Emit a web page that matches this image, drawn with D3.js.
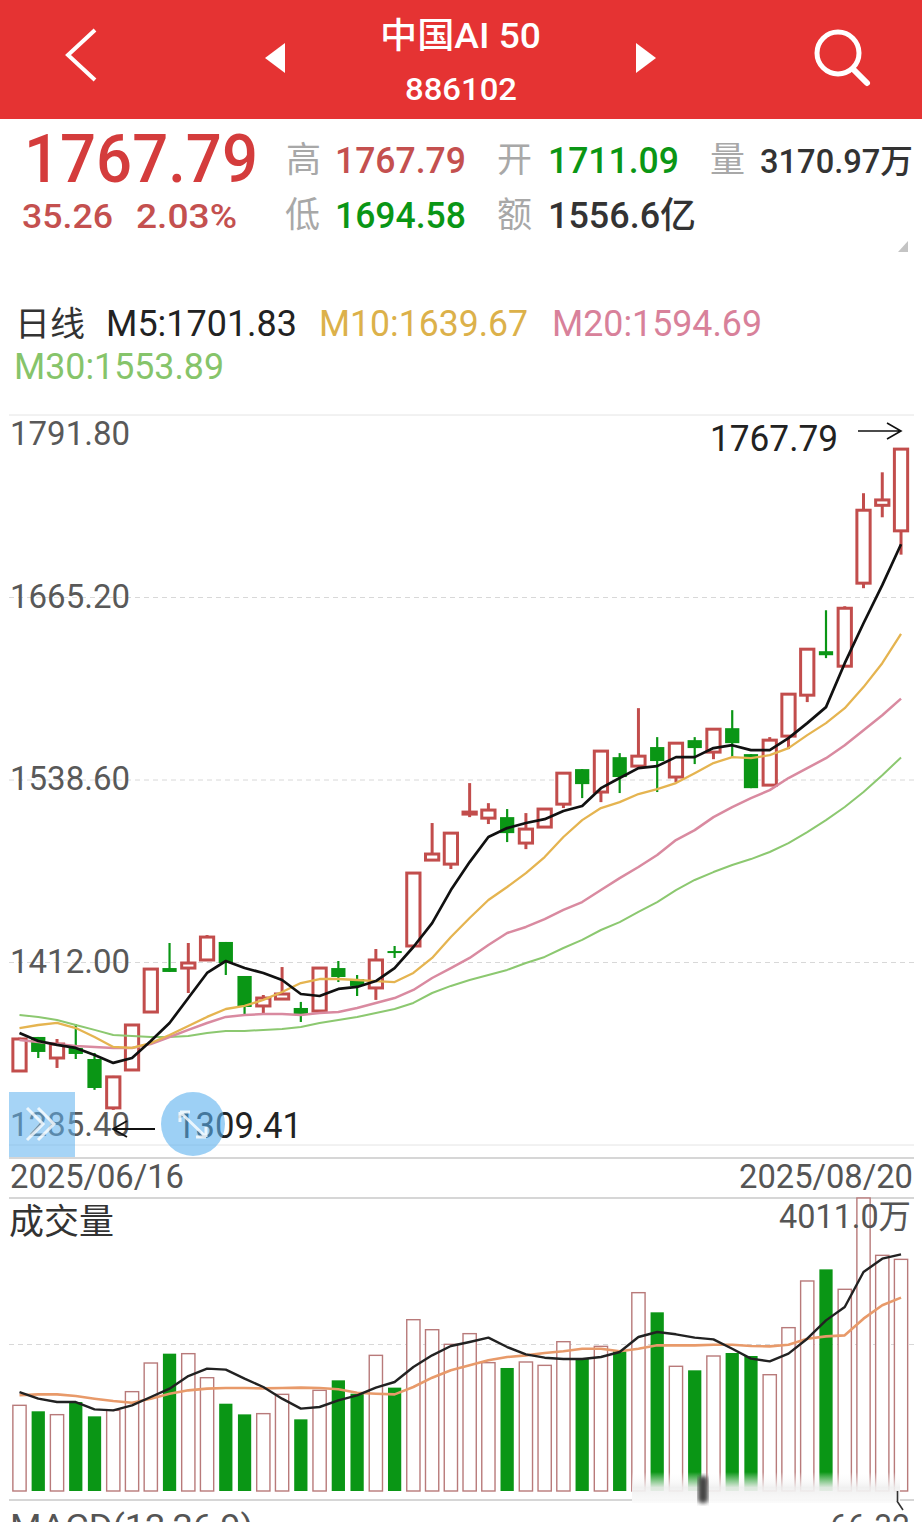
<!DOCTYPE html>
<meta charset="utf-8">
<style>
html, body { margin: 0; padding: 0; background: #fff; }
svg { display: block; }
text { font-family: Roboto, "Noto Sans CJK SC", sans-serif; }
.grid line { stroke: #d8d8d8; stroke-dasharray: 5 4; }
.grid path { display: none; }
.grid text { font-size: 33px; fill: #595959; }
.ma { fill: none; stroke-linejoin: round; }
</style>
<svg width="922" height="1522"></svg>
<script src="https://d3js.org/d3.v7.min.js"></script>
<script>
var priceTicks = [1791.80, 1665.20, 1538.60, 1412.00, 1285.40];

// daily bars, 2025/06/16 to 2025/08/20
var open = [1336.4,1360.0,1345.4,1352.4,1344.7,1310.8,1337.1,1377.3,1407.8,1407.8,1413.4,1425.9,1402.3,1381.5,1386.3,1380.1,1378.0,1407.8,1400.2,1394.0,1419.6,1423.1,1482.7,1479.9,1514.6,1511.8,1512.5,1494.5,1505.6,1521.5,1545.8,1529.9,1554.1,1547.9,1561.1,1540.3,1565.9,1557.6,1574.2,1556.2,1534.7,1568.7,1597.1,1627.6,1617.2,1674.8,1728.8,1711.09];
var high = [1359.5,1360.0,1358.6,1369.0,1348.9,1333.0,1368.3,1407.1,1425.2,1425.2,1430.7,1425.9,1402.3,1389.1,1408.5,1384.3,1408.5,1412.7,1403.0,1421.0,1423.1,1473.7,1508.4,1501.8,1536.1,1522.2,1518.1,1515.3,1518.1,1543.6,1545.8,1558.3,1556.9,1588.1,1568.0,1563.8,1568.0,1573.5,1586.7,1556.2,1568.0,1597.8,1629.0,1656.0,1658.8,1737.2,1751.7,1767.79];
var low = [1336.4,1345.4,1338.5,1344.7,1323.3,1309.41,1337.1,1377.3,1405.1,1390.5,1413.4,1403.0,1375.9,1375.9,1385.7,1370.4,1377.5,1398.1,1388.4,1385.7,1414.8,1423.1,1482.7,1476.5,1512.5,1507.7,1495.2,1490.3,1505.6,1518.8,1525.7,1522.9,1529.2,1546.5,1529.9,1536.8,1549.3,1552.7,1554.1,1532.6,1534.7,1559.7,1592.3,1622.8,1617.2,1671.3,1720.5,1694.58];
var close = [1358.6,1349.6,1355.1,1348.2,1324.6,1332.3,1368.3,1407.1,1405.1,1411.3,1429.3,1411.3,1380.8,1387.0,1389.8,1375.9,1407.8,1401.6,1395.4,1413.4,1418.2,1473.7,1486.9,1501.4,1516.0,1517.4,1501.4,1504.2,1518.1,1543.0,1535.4,1558.3,1540.3,1554.8,1551.4,1563.8,1560.4,1573.5,1563.8,1532.6,1565.9,1597.8,1629.0,1624.8,1657.4,1725.4,1732.53,1767.79];

var m5 = [1362.8,1357.2,1354.5,1352.4,1347.5,1342.0,1345.4,1357.2,1369.7,1387.0,1404.4,1412.7,1407.8,1404.4,1399.5,1389.8,1388.4,1393.3,1394.7,1398.8,1407.8,1422.4,1439.0,1461.9,1481.3,1498.7,1504.9,1508.4,1511.1,1516.7,1520.2,1532.6,1539.6,1546.5,1547.9,1554.1,1554.1,1560.4,1562.4,1559.0,1559.0,1567.3,1577.7,1588.8,1619.3,1647.0,1673.4,1701.83];
var m10 = [1366.2,1368.3,1369.7,1366.2,1360.0,1353.1,1352.4,1355.8,1361.4,1367.6,1373.9,1379.4,1381.5,1385.7,1391.2,1397.4,1400.2,1400.2,1399.5,1398.8,1398.1,1404.4,1414.8,1429.3,1442.5,1455.0,1464.0,1473.7,1484.8,1498.7,1510.4,1518.8,1522.9,1528.5,1531.9,1536.1,1543.0,1550.0,1554.1,1553.4,1555.5,1560.4,1569.4,1577.7,1588.1,1602.7,1619.3,1639.67];
var m20 = [1357.9,1356.5,1355.1,1353.8,1353.1,1352.4,1352.4,1355.1,1360.0,1364.9,1369.7,1373.9,1375.3,1375.9,1375.9,1375.3,1376.6,1377.3,1380.1,1383.6,1387.0,1392.6,1400.9,1407.8,1414.8,1423.8,1432.1,1436.3,1441.8,1448.1,1453.6,1461.9,1470.2,1477.9,1486.2,1496.6,1503.5,1512.5,1519.5,1525.7,1531.2,1539.6,1546.5,1553.4,1562.4,1572.8,1583.2,1594.69];
var m30 = [1375.3,1373.9,1371.8,1368.3,1364.9,1361.4,1360.7,1360.0,1360.0,1360.7,1362.8,1364.2,1364.2,1364.9,1365.5,1366.9,1369.7,1371.8,1373.9,1376.6,1379.4,1383.6,1390.5,1395.4,1399.5,1403.0,1406.5,1411.3,1415.5,1421.7,1427.3,1434.2,1439.7,1446.7,1453.6,1461.9,1468.9,1474.4,1479.3,1483.4,1488.3,1494.5,1502.1,1510.4,1519.5,1529.9,1541.6,1553.89];

// volume in 万
var volume = [1173,1091,1045,1218,1022,1104,1360,1752,1880,1880,1551,1195,1049,1059,1323,981,1378,1515,1332,1857,1415,2345,2208,2008,2154,1757,1684,1766,1720,2044,1811,1980,1912,2715,2446,1707,1652,1848,1889,1848,1592,2236,2875,3034,2761,4011,3226,3170.97];
var volFast = [1355,1264,1218,1218,1118,1104,1173,1287,1401,1574,1675,1661,1538,1424,1264,1127,1150,1241,1310,1415,1492,1697,1857,1985,2040,2099,1971,1871,1825,1807,1807,1834,1903,2108,2177,2145,2099,2076,1948,1812,1775,1880,2085,2336,2519,2998,3180,3240];
var volSlow = [1310,1323,1323,1300,1264,1232,1209,1264,1332,1378,1401,1410,1410,1405,1410,1415,1410,1392,1346,1332,1323,1424,1551,1652,1720,1789,1834,1857,1889,1912,1948,1948,1912,1948,1994,1994,1994,2003,2003,1985,1980,2003,2085,2117,2131,2359,2542,2647];

var RED = "#c24d4c", GREEN = "#0a9615", HEAD = "#e53333";
var svg = d3.select("svg");
var days = d3.range(close.length);

var x = d3.scaleBand().domain(days).range([10.12, 910.4]).paddingInner(0.24).paddingOuter(0.12);
var cx = function(i) { return x(i) + x.bandwidth() / 2; };
var y = d3.scaleLinear().domain([1285.4, 1791.8]).range([1144.5, 414.5]);
var yVol = d3.scaleLinear().domain([0, 4011]).range([1491, 1198]);
var isUp = function(i) { return close[i] >= open[i]; };

function label(s, px, py, size, fill, width, anchor) {
  var t = svg.append("text").attr("x", px).attr("y", py)
      .style("font-size", size + "px").attr("fill", fill).text(s);
  if (width) t.attr("textLength", width).attr("lengthAdjust", "spacingAndGlyphs");
  if (anchor) t.attr("text-anchor", anchor);
  return t;
}

// header
svg.append("rect").attr("width", 922).attr("height", 119).attr("fill", HEAD);
svg.append("path").attr("d", "M95,30L68,55L95,80").attr("fill", "none").attr("stroke", "#fff").attr("stroke-width", 4);
svg.append("path").attr("d", "M285,43L265,58L285,73Z").attr("fill", "#fff");
svg.append("path").attr("d", "M636,43L656,58L636,73Z").attr("fill", "#fff");
svg.append("circle").attr("cx", 838).attr("cy", 53).attr("r", 21).attr("fill", "none").attr("stroke", "#fff").attr("stroke-width", 5);
svg.append("path").attr("d", "M853,69L867,83").attr("stroke", "#fff").attr("stroke-width", 6).attr("stroke-linecap", "round");
label("中国AI 50", 380, 48, 35, "#fff", 161).style("font-weight", 500);
label("886102", 405, 100, 32, "#fff", 112).style("font-weight", 500);

// quote block
label("1767.79", 24, 182, 66, "#d43c3c", 234).style("font-weight", 500);
label("35.26", 22, 228, 34, "#c4504f", 91).style("font-weight", 500);
label("2.03%", 136, 228, 34, "#c4504f", 101).style("font-weight", 500);
label("高", 286, 172, 35, "#a8a8a8");
label("1767.79", 335, 173, 37, "#c4504f", 131).style("font-weight", 500);
label("开", 497, 172, 35, "#a8a8a8");
label("1711.09", 548, 173, 37, GREEN, 131).style("font-weight", 500);
label("量", 710, 172, 35, "#a8a8a8");
label("3170.97万", 760, 173, 33, "#333", 153).style("font-weight", 500);
label("低", 285, 227, 35, "#a8a8a8");
label("1694.58", 335, 228, 37, GREEN, 131).style("font-weight", 500);
label("额", 497, 227, 35, "#a8a8a8");
label("1556.6亿", 548, 228, 36, "#333", 148).style("font-weight", 500);
svg.append("path").attr("d", "M908,241V252H898Z").attr("fill", "#c4c4c4");

// legend
label("日线", 15, 336, 34, "#333", 70);
label("M5:1701.83", 106, 336, 36, "#222", 191);
label("M10:1639.67", 319, 336, 36, "#dcb14a", 209);
label("M20:1594.69", 552, 336, 36, "#d8819a", 210);
label("M30:1553.89", 14, 379, 36, "#86c46a", 210);

// price axis
var axis = svg.append("g").attr("class", "grid").attr("transform", "translate(914,0)")
    .call(d3.axisLeft(y).tickValues(priceTicks).tickFormat(d3.format(".2f")).tickSize(905));
axis.selectAll("text").attr("x", -904).attr("text-anchor", "start");
var tickDy = {"1791.80": 30, "1285.40": -9};
axis.selectAll(".tick text").attr("dy", function(d) { return tickDy[d.toFixed(2)] === undefined ? 10 : tickDy[d.toFixed(2)]; });
axis.selectAll(".tick line").filter(function(d) { return d == 1791.8 || d == 1285.4; })
    .style("stroke-dasharray", "none").style("stroke", "#e4e4e4");

// candles
var candle = svg.append("g").selectAll("g").data(days).join("g");
candle.append("line")
    .attr("x1", cx).attr("x2", cx)
    .attr("y1", function(i) { return y(high[i]); })
    .attr("y2", function(i) { return y(low[i]); })
    .attr("stroke", function(i) { return isUp(i) ? RED : GREEN; })
    .attr("stroke-width", function(i) { return isUp(i) ? 3 : 2.2; });
candle.append("rect")
    .attr("x", function(i) { return x(i) + (isUp(i) ? 0.5 : 0); })
    .attr("width", function(i) { return x.bandwidth() - (isUp(i) ? 1 : 0); })
    .attr("y", function(i) { return y(Math.max(open[i], close[i])); })
    .attr("height", function(i) { return Math.max(2, Math.abs(y(open[i]) - y(close[i]))); })
    .attr("fill", function(i) { return isUp(i) ? "#fff" : GREEN; })
    .attr("stroke", function(i) { return isUp(i) ? RED : "none"; })
    .attr("stroke-width", 3);

var line = d3.line().x(function(d, i) { return cx(i); }).y(function(d) { return y(d); });
[[m30, "#8cc870", 2], [m20, "#d98aa0", 2.5], [m10, "#e5b450", 2.3], [m5, "#111", 2.7]].forEach(function(s) {
  svg.append("path").attr("class", "ma").attr("d", line(s[0])).attr("stroke", s[1]).attr("stroke-width", s[2]);
});

// high / low markers
label("1767.79", 710, 451, 36, "#222", 128);
svg.append("path").attr("d", "M858,431H901M887,423L901,431L887,439").attr("fill", "none").attr("stroke", "#111").attr("stroke-width", 1.6);
label("1309.41", 176, 1138, 36, "#222", 126);
svg.append("path").attr("d", "M155,1129H113M127,1121L113,1129L127,1137").attr("fill", "none").attr("stroke", "#111").attr("stroke-width", 1.8);

// app overlay buttons
svg.append("rect").attr("x", 9).attr("y", 1092).attr("width", 66).attr("height", 65).attr("fill", "#5cb0ee").attr("opacity", 0.55);
svg.append("path").attr("d", "M27,1108L43,1124L27,1140M38,1108L54,1124L38,1140").attr("fill", "none").attr("stroke", "#fff").attr("stroke-width", 3).attr("opacity", 0.8);
svg.append("circle").attr("cx", 193).attr("cy", 1124).attr("r", 32).attr("fill", "#5cb0ee").attr("opacity", 0.6);
svg.append("path").attr("d", "M180,1112H190M180,1112V1122M180,1112L206,1137M206,1137H196M206,1137V1127").attr("fill", "none").attr("stroke", "#fff").attr("stroke-width", 3).attr("opacity", 0.8);

// dates
svg.append("line").attr("x1", 9).attr("x2", 914).attr("y1", 1158).attr("y2", 1158).attr("stroke", "#c8c8c8").attr("stroke-width", 1.5);
label("2025/06/16", 10, 1188, 33, "#555", 174);
label("2025/08/20", 739, 1188, 33, "#555", 174);
svg.append("line").attr("x1", 9).attr("x2", 914).attr("y1", 1198).attr("y2", 1198).attr("stroke", "#c8c8c8").attr("stroke-width", 1.5);

// volume
svg.append("line").attr("x1", 9).attr("x2", 914).attr("y1", yVol(2005.5)).attr("y2", yVol(2005.5))
    .attr("stroke", "#d8d8d8").attr("stroke-dasharray", "5 4");
svg.append("g").selectAll("rect").data(days).join("rect")
    .attr("x", function(i) { return x(i) + 0.5; })
    .attr("width", x.bandwidth() - 1)
    .attr("y", function(i) { return yVol(volume[i]); })
    .attr("height", function(i) { return yVol(0) - yVol(volume[i]); })
    .attr("fill", function(i) { return isUp(i) ? "#fff" : GREEN; })
    .attr("stroke", function(i) { return isUp(i) ? "#b87a7a" : "none"; })
    .attr("stroke-width", 1.4);
var volLine = d3.line().x(function(d, i) { return cx(i); }).y(function(d) { return yVol(d); });
svg.append("path").attr("class", "ma").attr("d", volLine(volSlow)).attr("stroke", "#e89a6a").attr("stroke-width", 2.6);
svg.append("path").attr("class", "ma").attr("d", volLine(volFast)).attr("stroke", "#222").attr("stroke-width", 2.4);
label("成交量", 9, 1234, 35, "#333", 105);
label("4011.0万", 779, 1228, 33, "#555", 132);

// MACD header, cut off by the screenshot
svg.append("line").attr("x1", 9).attr("x2", 914).attr("y1", 1500).attr("y2", 1500).attr("stroke", "#c8c8c8").attr("stroke-width", 1.5);
label("MACD(12,26,9)", 10, 1538, 33, "#555", 243);
label("66.32", 830, 1538, 33, "#555", 80);

// watermark smear along the bottom right
var defs = svg.append("defs");
var fade = defs.append("linearGradient").attr("id", "smear").attr("x1", 0).attr("x2", 0).attr("y1", 0).attr("y2", 1);
fade.append("stop").attr("offset", 0).attr("stop-color", "#fff").attr("stop-opacity", 0);
fade.append("stop").attr("offset", 0.5).attr("stop-color", "#efefef").attr("stop-opacity", 0.92);
fade.append("stop").attr("offset", 1).attr("stop-color", "#fbfbfb").attr("stop-opacity", 0.97);
defs.append("filter").attr("id", "soft").append("feGaussianBlur").attr("stdDeviation", 2);
svg.append("rect").attr("x", 632).attr("y", 1472).attr("width", 268).attr("height", 31).attr("fill", "url(#smear)");
svg.append("rect").attr("x", 698).attr("y", 1476).attr("width", 10).attr("height", 27).attr("rx", 4).attr("fill", "#444").attr("filter", "url(#soft)");
svg.append("path").attr("d", "M897.5,1491V1501M897,1501L903,1510").attr("fill", "none").attr("stroke", "#333").attr("stroke-width", 1.6);
</script>
